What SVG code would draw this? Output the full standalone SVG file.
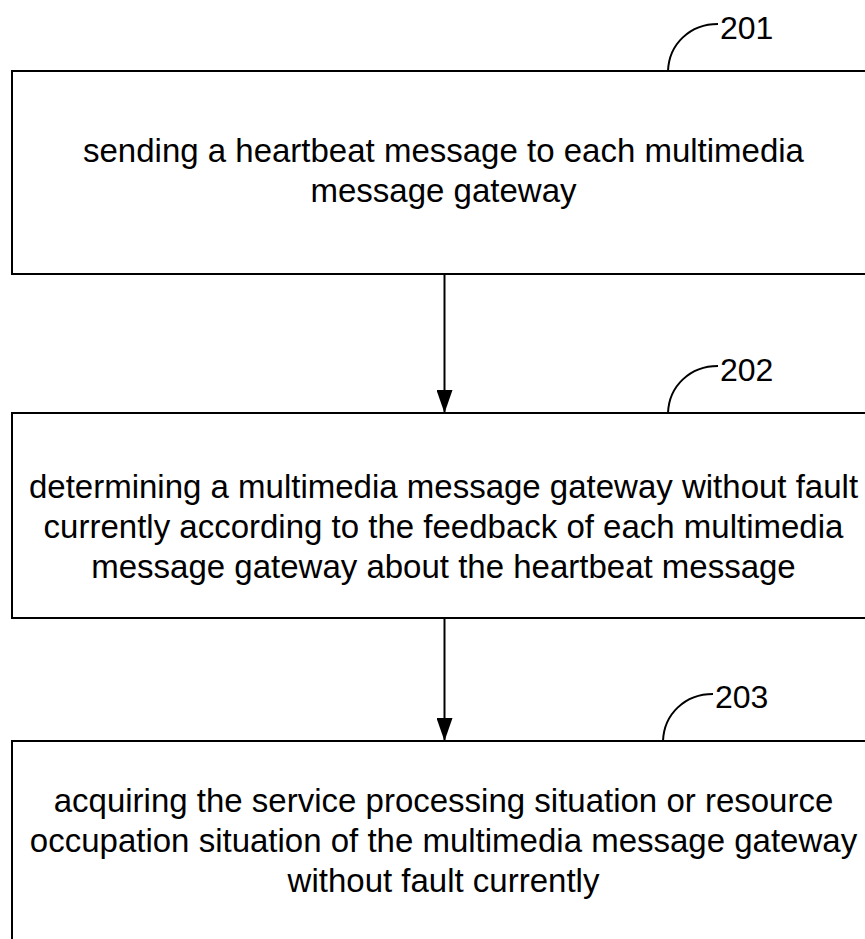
<svg xmlns="http://www.w3.org/2000/svg" width="865" height="939" viewBox="0 0 865 939">
<style>
.box{fill:#fff;stroke:#000;stroke-width:2}
.t{font-family:"Liberation Sans",Arial,sans-serif;font-size:33px;fill:#000;text-anchor:middle}
.lbl{font-family:"Liberation Sans",Arial,sans-serif;font-size:32px;fill:#000}
.lead{fill:none;stroke:#000;stroke-width:2}
.conn{stroke:#000;stroke-width:2;fill:none}
</style>
<defs>
<marker id="ah" markerUnits="userSpaceOnUse" markerWidth="23" markerHeight="16" refX="23" refY="8" orient="auto" viewBox="0 0 23 16">
<path d="M0,0 L23,8 L0,16 Z" fill="#000"/>
</marker>
</defs>
<rect width="865" height="939" fill="#fff"/>
<g id="node201">
<rect class="box" x="12" y="71" width="880" height="203"/>
<text class="t" x="443.5" y="162">sending a heartbeat message to each multimedia</text>
<text class="t" x="443.5" y="202">message gateway</text>
<path class="lead" d="M668,71 C669,44 690,24 718,24"/>
<text class="lbl" x="720" y="39">201</text>
</g>
<g id="node202">
<rect class="box" x="12" y="413" width="880" height="205"/>
<text class="t" x="443.5" y="498">determining a multimedia message gateway without fault</text>
<text class="t" x="443.5" y="538">currently according to the feedback of each multimedia</text>
<text class="t" x="443.5" y="578">message gateway about the heartbeat message</text>
<path class="lead" d="M668,413 C669,386 690,366 718,366"/>
<text class="lbl" x="720" y="381">202</text>
</g>
<g id="node203">
<rect class="box" x="12" y="741" width="880" height="240"/>
<text class="t" x="443.5" y="812">acquiring the service processing situation or resource</text>
<text class="t" x="443.5" y="852">occupation situation of the multimedia message gateway</text>
<text class="t" x="443.5" y="892">without fault currently</text>
<path class="lead" d="M663,741 C664,714 685,694 713,694"/>
<text class="lbl" x="715" y="708">203</text>
</g>
<g id="connectors">
<line class="conn" x1="444.5" y1="275" x2="444.5" y2="413" marker-end="url(#ah)"/>
<line class="conn" x1="444.5" y1="619" x2="444.5" y2="741" marker-end="url(#ah)"/>
</g>
</svg>
